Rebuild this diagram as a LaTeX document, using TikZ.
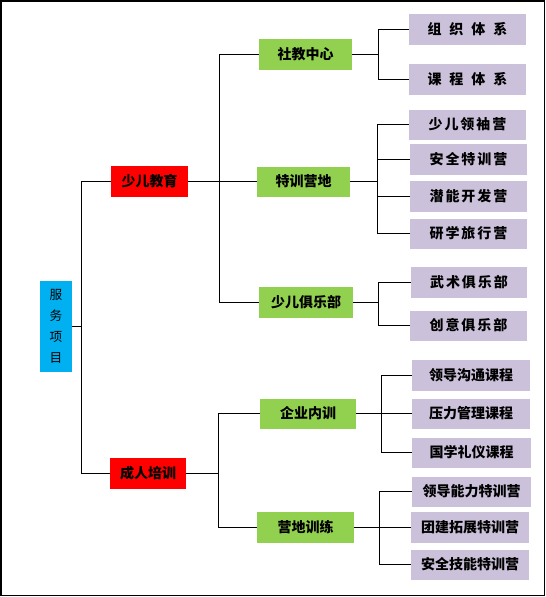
\documentclass[tikz,border=0pt]{standalone}
\usepackage{fontspec}
\setmainfont{Noto Sans CJK SC}
\newfontfamily\cjkwide[LetterSpace=14]{Noto Sans CJK SC}
\definecolor{rootcol}{HTML}{00B0F0}
\definecolor{redcol}{HTML}{FF0000}
\definecolor{greencol}{HTML}{92D050}
\definecolor{lavcol}{HTML}{CCC1DA}
\tikzset{
  bsize/.style 2 args={minimum width=#1*0.75pt, minimum height=#2*0.75pt},
  rootbox/.style={fill=rootcol, inner sep=0pt, align=center, font=\fontsize{9.5}{15.75}\selectfont},
  lonebox/.style={fill=redcol, inner sep=0pt},
  ltwobox/.style={fill=greencol, inner sep=0pt},
  lthreebox/.style={fill=lavcol, inner sep=0pt},
  conn/.style={draw=black, line width=0.8pt}
}
\begin{document}
\begin{tikzpicture}[x=0.75pt, y=-0.75pt, font=\fontsize{10.5}{12}\selectfont\bfseries]
\useasboundingbox (0,0) rectangle (546,597);
\draw[line width=1.2pt] (0.75,0.75) rectangle (544.5,595.5);

% root
\node[rootbox, bsize={32}{91}] (root) at (56,326.5) {服\\务\\项\\目};

% level 1
\node[lonebox, bsize={77}{31}] (la) at (149.5,181.5) {少儿教育};
\node[lonebox, bsize={76}{31}] (lb) at (148,473.5) {成人培训};

% level 2
\node[ltwobox, bsize={93}{31}] (ma) at (305.5,54.5) {社教中心};
\node[ltwobox, bsize={93}{30}] (mb) at (303.5,181.5) {特训营地};
\node[ltwobox, bsize={94}{31}] (mc) at (306,302.5) {少儿俱乐部};
\node[ltwobox, bsize={96}{30}] (md) at (308,413.5) {企业内训};
\node[ltwobox, bsize={97}{31}] (me) at (305.5,527.5) {营地训练};

% level 3
\node[lthreebox, bsize={117}{31}] (a1) at (467.5,29.5) {组\hspace{6pt}织\hspace{6pt}体\hspace{6pt}系};
\node[lthreebox, bsize={117}{31}] (a2) at (467.5,79.5) {课\hspace{6pt}程\hspace{6pt}体\hspace{6pt}系};
\node[lthreebox, bsize={117}{30}] (b1) at (467.5,124.5) {\cjkwide 少儿领袖营};
\node[lthreebox, bsize={117}{31}] (b2) at (468.5,159.5) {\cjkwide 安全特训营};
\node[lthreebox, bsize={117}{31}] (b3) at (468.5,196.5) {\cjkwide 潜能开发营};
\node[lthreebox, bsize={117}{30}] (b4) at (468.5,233.5) {\cjkwide 研学旅行营};
\node[lthreebox, bsize={116}{31}] (c1) at (469,282.5) {\cjkwide 武术俱乐部};
\node[lthreebox, bsize={117}{30}] (c2) at (468.5,325.5) {\cjkwide 创意俱乐部};
\node[lthreebox, bsize={118}{31}] (d1) at (471,375.5) {领导沟通课程};
\node[lthreebox, bsize={118}{30}] (d2) at (471,413.5) {压力管理课程};
\node[lthreebox, bsize={119}{30}] (d3) at (471.5,452.5) {国学礼仪课程};
\node[lthreebox, bsize={119}{30}] (e1) at (471.5,491.5) {领导能力特训营};
\node[lthreebox, bsize={118}{31}] (e2) at (470,527.5) {团建拓展特训营};
\node[lthreebox, bsize={118}{30}] (e3) at (470,564.5) {安全技能特训营};

% connectors: trunk to junction, then outer branches, then middle branches
\draw[conn] (root.east) -- ++(9.5,0) coordinate (jr);
\draw[conn] (la.west) -| (jr) |- (lb.west);

\draw[conn] (la.east) -- ++(31.5,0) coordinate (ja) -- (mb.west);
\draw[conn] (ma.west) -| (ja) |- (mc.west);

\draw[conn] (lb.east) -- ++(32.5,0) coordinate (jb);
\draw[conn] (md.west) -| (jb) |- (me.west);

\draw[conn] (ma.east) -- ++(26.5,0) coordinate (j1);
\draw[conn] (a1.west) -| (j1) |- (a2.west);

\draw[conn] (mb.east) -- ++(27.5,0) coordinate (j2);
\draw[conn] (b1.west) -| (j2) |- (b4.west);
\foreach \c in {b2,b3} \draw[conn] (\c.west) -- (\c.west -| j2);

\draw[conn] (mc.east) -- ++(25.5,0) coordinate (j3);
\draw[conn] (c1.west) -| (j3) |- (c2.west);

\draw[conn] (md.east) -- ++(25.5,0) coordinate (j4);
\draw[conn] (d1.west) -| (j4) |- (d3.west);
\draw[conn] (d2.west) -- (d2.west -| j4);

\draw[conn] (me.east) -- ++(25.5,0) coordinate (j5);
\draw[conn] (e1.west) -| (j5) |- (e3.west);
\draw[conn] (e2.west) -- (e2.west -| j5);
\end{tikzpicture}
\end{document}
